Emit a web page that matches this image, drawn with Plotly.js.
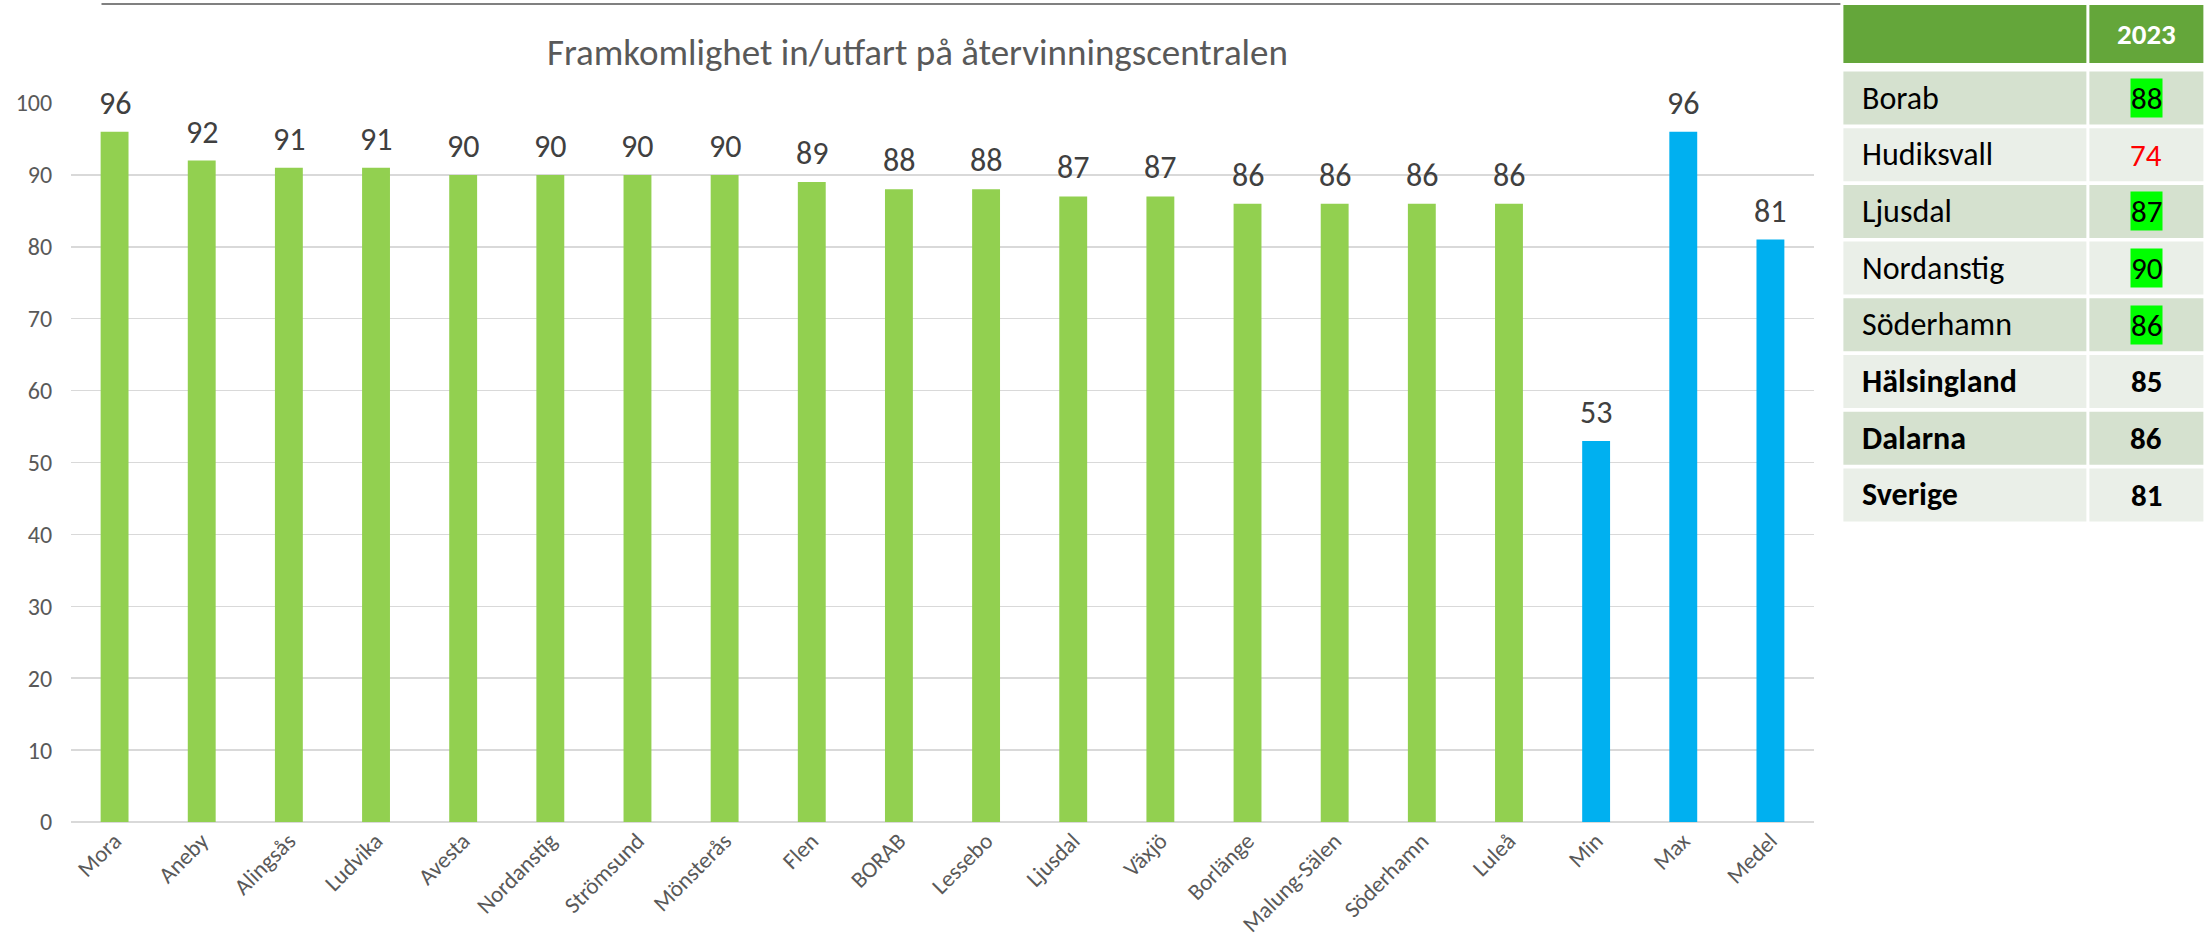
<!DOCTYPE html>
<html><head><meta charset="utf-8">
<script src="https://cdn.plot.ly/plotly-3.0.1.min.js"></script>
<style>html,body{margin:0;padding:0;background:#fff;}#chart{width:2206px;height:947px;}</style>
</head><body><div id="chart"></div>
<script>
// ---- Data ----
const chartTitle = 'Framkomlighet in/utfart på återvinningscentralen';
const kommuner = ['Mora','Aneby','Alingsås','Ludvika','Avesta','Nordanstig','Strömsund','Mönsterås','Flen','BORAB','Lessebo','Ljusdal','Växjö','Borlänge','Malung-Sälen','Söderhamn','Luleå'];
const kommunVarden = [96,92,91,91,90,90,90,90,89,88,88,87,87,86,86,86,86];
const statEtiketter = ['Min','Max','Medel'];
const statVarden = [53,96,81];
const yTicks = [0,10,20,30,40,50,60,70,80,90,100];

const tabellRubrik = '2023';
const tabellNamn = ['Borab','Hudiksvall','Ljusdal','Nordanstig','Söderhamn','Hälsingland','Dalarna','Sverige'];
const tabellVarden = [88,74,87,90,86,85,86,81];
const tabellFet = [false,false,false,false,false,true,true,true];
const tabellMarkering = ['green','red','green','green','green','none','none','none'];

// ---- Layout geometry (pixels) ----
const W = 2206, H = 947;
const L = 70.5, R = 1813.6, T = 103, B = 822;
const px = v => (v - L) / (R - L);
const py = v => (B - v) / (B - T);
const FONT = 'Carlito, Calibri, Lato, sans-serif';

const green = '#92D050', blue = '#00B0F0';
const traces = [
  {type:'bar', x:kommuner, y:kommunVarden, marker:{color:green}, hoverinfo:'skip'},
  {type:'bar', x:statEtiketter, y:statVarden, marker:{color:blue}, hoverinfo:'skip'}
];

const shapes = [];
const annotations = [];

// value labels above bars (anchored at data coordinates)
kommuner.concat(statEtiketter).forEach((k, i) => {
  const v = kommunVarden.concat(statVarden)[i];
  annotations.push({xref:'x', yref:'y', x:k, y:v, text:String(v), showarrow:false, xanchor:'center', yanchor:'bottom',
    yshift:7, font:{family:FONT, size:32, color:'#404040'}});
});

// top rule line
shapes.push({type:'line', xref:'paper', yref:'paper', x0:px(101), x1:px(1840), y0:py(4), y1:py(4), line:{color:'#808080', width:2}});

// table geometry
const tL = 1843, tMid1 = 2086, tMid2 = 2089, tR = 2203;
const hTop = 5, hBot = 63;
const rowTop0 = 71.5, rowPitch = 56.7, rowH = 53;
const headerColor = '#64A63A', darkRow = '#D5E1CF', lightRow = '#EAEFE8';

shapes.push({type:'rect', xref:'paper', yref:'paper', x0:px(tL), x1:px(tMid1), y0:py(hBot), y1:py(hTop), fillcolor:headerColor, line:{width:0}});
shapes.push({type:'rect', xref:'paper', yref:'paper', x0:px(tMid2), x1:px(tR), y0:py(hBot), y1:py(hTop), fillcolor:headerColor, line:{width:0}});
annotations.push({xref:'paper', yref:'paper', x:px((tMid2+tR)/2), y:py((hTop+hBot)/2), text:'<b>'+tabellRubrik+'</b>', showarrow:false,
  xanchor:'center', yanchor:'middle', font:{family:FONT, size:29, color:'#FFFFFF'}});

tabellNamn.forEach((namn, i) => {
  const top = rowTop0 + i*rowPitch, bot = top + rowH;
  const fill = (i % 2 === 0) ? darkRow : lightRow;
  shapes.push({type:'rect', xref:'paper', yref:'paper', x0:px(tL), x1:px(tMid1), y0:py(bot), y1:py(top), fillcolor:fill, line:{width:0}});
  shapes.push({type:'rect', xref:'paper', yref:'paper', x0:px(tMid2), x1:px(tR), y0:py(bot), y1:py(top), fillcolor:fill, line:{width:0}});
  const fet = tabellFet[i];
  annotations.push({xref:'paper', yref:'paper', x:px(1860), y:py((top+bot)/2), text: fet ? '<b>'+namn+'</b>' : namn,
    showarrow:false, xanchor:'left', yanchor:'middle', font:{family:FONT, size:32, color:'#000000'}});
  const mark = tabellMarkering[i];
  const vtxt = String(tabellVarden[i]);
  annotations.push({xref:'paper', yref:'paper', x:px((tMid2+tR)/2), y:py((top+bot)/2), text: fet ? '<b>'+vtxt+'</b>' : vtxt,
    showarrow:false, xanchor:'center', yanchor:'middle', borderpad:0,
    bgcolor: mark === 'green' ? '#00FF00' : 'rgba(0,0,0,0)',
    font:{family:FONT, size:31, color: mark === 'red' ? '#FF0000' : '#000000'}});
});

const layout = {
  width:W, height:H,
  margin:{l:L, r:W-R, t:T, b:H-B, pad:0},
  paper_bgcolor:'#FFFFFF', plot_bgcolor:'#FFFFFF',
  showlegend:false,
  barmode:'overlay', bargap:0.68,
  title:{text:chartTitle, x:px(917), xanchor:'center', xref:'paper', y:1-52/H, yanchor:'middle',
    font:{family:FONT, size:37, color:'#595959'}},
  xaxis:{type:'category', categoryorder:'array', categoryarray:kommuner.concat(statEtiketter),
    tickangle:-45, tickfont:{family:FONT, size:23, color:'#595959'}, showgrid:false, showline:false,
    zeroline:false, ticks:'', fixedrange:true},
  yaxis:{range:[0,100], tickvals:yTicks, ticktext:yTicks.map(String), showgrid:true, gridcolor:'#D9D9D9', gridwidth:1.5,
    zeroline:true, zerolinecolor:'#D9D9D9', zerolinewidth:2, showline:false,
    ticks:'outside', ticklen:13, tickcolor:'rgba(0,0,0,0)',
    tickfont:{family:FONT, size:24, color:'#595959'}, fixedrange:true},
  shapes:shapes,
  annotations:annotations
};

Plotly.newPlot('chart', traces, layout, {displayModeBar:false, staticPlot:true});
</script>
</body></html>
